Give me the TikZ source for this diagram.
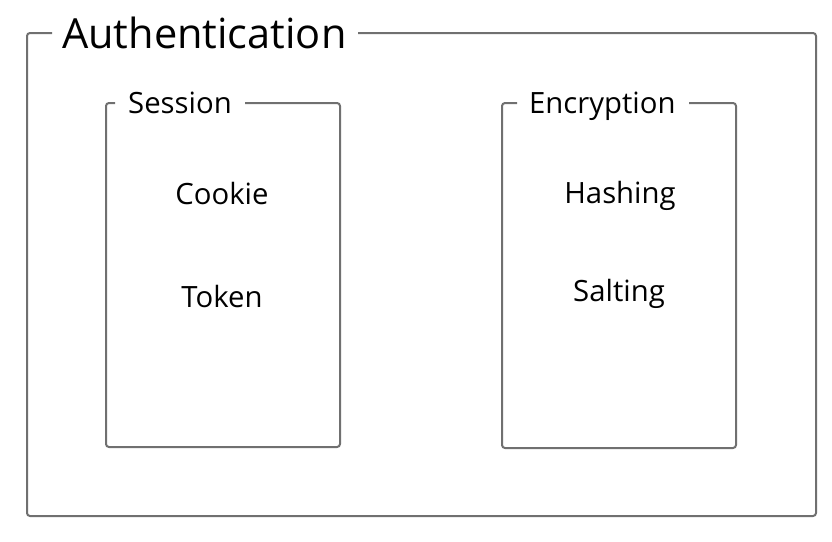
\documentclass[tikz,border=0pt]{standalone}
\usepackage{fontspec}
\setmainfont{Open Sans}
\begin{document}
\begin{tikzpicture}[x=1pt,y=1pt,
  frame/.style={draw=black!56, line width=2pt, rounded corners=3pt},
  bigtitle/.style={font=\fontsize{41.5}{48}\selectfont, inner sep=0pt, anchor=base west},
  subtitle/.style={font=\fontsize{29.3}{34}\selectfont, inner sep=0pt, anchor=base west},
  item/.style={font=\fontsize{29.3}{34}\selectfont, inner sep=0pt, anchor=base}]
\useasboundingbox (0,0) rectangle (832,-541);
% outer frame
\node[bigtitle] (auth) at (62,-48) {Authentication};
\draw[frame] (52,-33) -- (27,-33) -- (27,-516) -- (816,-516) -- (816,-33) -- (358,-33);
% session
\node[subtitle] (sess) at (128,-113) {Session};
\draw[frame] (115,-103) -- (106,-103) -- (106,-447) -- (340,-447) -- (340,-103) -- (245,-103);
\node[item] (cookie) at (222,-204) {Cookie};
\node[item] (token) at (222,-307) {Token};
% encryption
\node[subtitle] (enc) at (529,-113) {Encryption};
\draw[frame] (517,-103) -- (502,-103) -- (502,-448) -- (736,-448) -- (736,-103) -- (689,-103);
\node[item] (hash) at (620,-203) {Hashing};
\node[item] (salt) at (619,-301) {Salting};
\end{tikzpicture}
\end{document}
